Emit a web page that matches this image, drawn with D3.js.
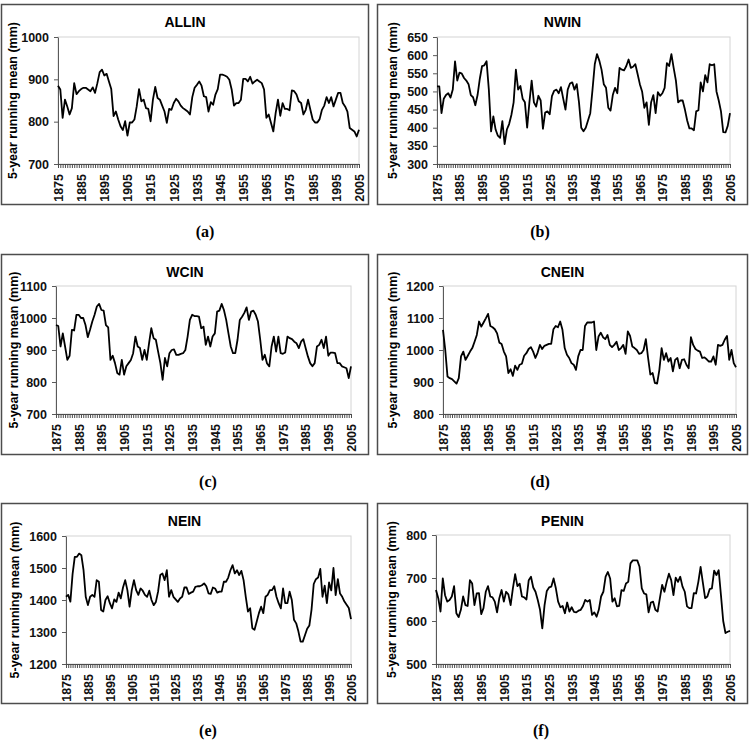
<!DOCTYPE html>
<html>
<head>
<meta charset="utf-8">
<script src="https://cdn.jsdelivr.net/npm/d3@7"></script>
<style>
  body { margin: 0; background: #fff; }
  text { font-family: "Liberation Sans", Arial, sans-serif; }
</style>
</head>
<body>
<script>
var years = d3.range(1875, 2006);
var labelYears = [1875, 1885, 1895, 1905, 1915, 1925, 1935, 1945, 1955, 1965, 1975, 1985, 1995, 2005];

var allin = [885,876,809,852,836,817,832,891,865,872,
  877,880,880,876,872,881,868,891,917,923,
  909,913,895,877,813,824,805,789,780,801,
  767,798,798,805,836,877,848,852,832,830,
  801,852,882,856,852,838,824,797,830,828,
  844,854,848,838,832,828,824,817,858,880,
  887,895,885,860,858,824,846,840,864,877,
  911,911,909,906,899,876,838,844,844,852,
  901,901,895,906,890,895,899,895,891,876,
  809,817,797,777,820,852,814,844,830,830,
  827,874,872,864,848,844,817,828,852,828,
  805,798,798,806,828,838,858,844,858,836,
  852,868,868,844,836,824,785,781,777,765,
  781];

var nwin = [514,514,440,480,490,495,483,505,583,530,
  552,549,537,530,520,490,484,462,490,535,
  570,572,583,505,390,431,395,378,372,418,
  355,395,410,435,470,560,505,515,480,470,
  400,470,530,470,458,488,475,397,442,445,
  437,487,502,505,495,512,480,450,505,522,
  525,505,520,470,400,390,400,420,440,505,
  575,603,585,560,520,510,455,447,490,510,
  495,565,560,558,570,588,565,568,575,548,
  520,500,455,470,408,470,490,440,498,488,
  495,510,578,570,603,565,530,470,475,475,
  450,420,398,398,393,445,448,525,500,545,
  525,575,572,575,500,475,445,388,387,405,
  440];

var wcin = [978,975,911,952,911,869,882,963,961,1010,
  1010,1000,1000,978,940,963,989,1010,1036,1044,
  1025,1023,978,971,869,882,859,828,823,869,
  823,849,859,869,890,942,911,906,869,900,
  869,921,968,937,932,895,859,807,875,849,
  890,900,902,885,885,888,890,900,942,994,
  1010,1006,1006,1004,968,973,916,942,911,942,
  952,1020,1023,1044,1025,994,952,911,890,890,
  932,994,1004,1016,1033,994,1020,1023,1010,989,
  932,869,885,858,849,911,942,895,942,890,
  888,892,942,937,934,926,921,906,926,934,
  906,880,859,849,859,911,916,932,906,942,
  882,892,892,890,859,859,849,846,843,812,
  849];

var cnein = [1063,1000,917,912,909,902,895,912,980,995,
  969,982,995,1006,1026,1047,1089,1073,1086,1099,
  1113,1075,1071,1065,1052,1023,1019,995,980,928,
  940,919,951,938,954,957,982,990,1003,1009,
  995,975,992,1016,1003,1013,1016,1019,1019,1065,
  1075,1071,1089,1063,1006,985,975,959,954,938,
  980,1000,1000,1075,1086,1086,1086,1089,1000,1042,
  1054,1040,1034,1047,1016,1009,1016,1026,1000,1006,
  1016,988,1058,1044,1011,1006,1000,988,990,1000,
  1034,975,923,928,897,895,938,1006,969,990,
  964,975,933,969,975,943,969,971,954,943,
  1040,1016,1003,998,995,975,977,971,964,964,
  980,954,1016,1013,1016,1032,1044,969,1000,959,
  946];

var nein = [1410,1416,1395,1481,1535,1535,1545,1540,1493,1410,
  1384,1410,1416,1410,1462,1457,1369,1364,1400,1412,
  1390,1374,1402,1394,1423,1405,1439,1462,1431,1379,
  1431,1462,1431,1416,1436,1429,1416,1410,1429,1400,
  1384,1394,1426,1478,1483,1462,1493,1410,1431,1410,
  1402,1394,1405,1410,1439,1439,1419,1423,1426,1441,
  1443,1443,1446,1452,1443,1421,1419,1439,1436,1423,
  1426,1426,1457,1457,1470,1493,1509,1483,1493,1478,
  1491,1462,1410,1364,1374,1312,1307,1333,1359,1379,
  1359,1410,1416,1431,1431,1443,1410,1390,1374,1436,
  1390,1390,1426,1400,1338,1327,1302,1270,1270,1290,
  1310,1320,1370,1450,1465,1470,1497,1410,1445,1390,
  1455,1430,1500,1415,1465,1420,1410,1395,1385,1375,
  1340];

var penin = [672,653,622,699,660,645,649,657,681,618,
  609,626,657,637,635,695,687,637,664,665,
  616,630,668,681,657,655,645,620,653,672,
  645,668,662,637,676,709,681,687,657,655,
  650,695,703,678,668,649,626,583,637,670,
  678,680,699,676,645,632,635,618,643,622,
  632,621,620,624,626,635,649,645,649,614,
  620,610,626,657,668,703,714,699,645,653,
  634,635,672,670,687,691,734,741,741,741,
  726,676,664,662,620,643,645,626,622,653,
  684,668,691,710,695,660,701,691,703,680,
  668,634,630,630,665,664,691,726,689,653,
  657,674,676,717,707,718,660,600,572,575,
  577];

var allinTicks = [700, 800, 900, 1000];
var nwinTicks = [300, 350, 400, 450, 500, 550, 600, 650];
var wcinTicks = [700, 800, 900, 1000, 1100];
var cneinTicks = [800, 900, 1000, 1100, 1200];
var neinTicks = [1200, 1300, 1400, 1500, 1600];
var peninTicks = [500, 600, 700, 800];

var svg = d3.select("body")
            .append("svg")
            .attr("width", 754)
            .attr("height", 749);

// box = [x, y, w, h], plot = [left, top, right, bottom]
var panels = [
  {title: "ALLIN", tag: "(a)", values: allin, ticks: allinTicks, box: [1.5, 4.5, 367, 200], plot: [58, 37, 359, 164], labelX: 13, tagX: 205},
  {title: "NWIN", tag: "(b)", values: nwin, ticks: nwinTicks, box: [377.5, 4.5, 370, 200], plot: [437, 37, 730, 164], labelX: 393, tagX: 540},
  {title: "WCIN", tag: "(c)", values: wcin, ticks: wcinTicks, box: [1.5, 254.5, 367, 200], plot: [56, 286, 351, 414], labelX: 14, tagX: 208},
  {title: "CNEIN", tag: "(d)", values: cnein, ticks: cneinTicks, box: [377.5, 254.5, 370, 200], plot: [443, 286, 736, 414], labelX: 393, tagX: 540},
  {title: "NEIN", tag: "(e)", values: nein, ticks: neinTicks, box: [1.5, 503.5, 366, 200], plot: [66, 536, 351, 664], labelX: 15, tagX: 208},
  {title: "PENIN", tag: "(f)", values: penin, ticks: peninTicks, box: [377.5, 503.5, 370, 200], plot: [436, 535, 730, 664], labelX: 392, tagX: 541}
];

panels.forEach(function(p) {
  var g = svg.append("g");
  var left = p.plot[0], top = p.plot[1], right = p.plot[2], bottom = p.plot[3];

  g.append("rect")
   .attr("x", p.box[0])
   .attr("y", p.box[1])
   .attr("width", p.box[2])
   .attr("height", p.box[3])
   .attr("fill", "none")
   .attr("stroke", "#4d4d4d")
   .attr("stroke-width", 1.5);

  var xScale = d3.scaleLinear()
                 .domain([years[0], years[years.length - 1]])
                 .range([left, right]);

  var yScale = d3.scaleLinear()
                 .domain([p.ticks[0], p.ticks[p.ticks.length - 1]])
                 .range([bottom, top]);

  // light frame of the plot area
  g.append("rect")
   .attr("x", left)
   .attr("y", top)
   .attr("width", right - left)
   .attr("height", bottom - top)
   .attr("fill", "none")
   .attr("stroke", "#d4d4d4")
   .attr("stroke-width", 1);

  g.append("text")
   .attr("x", p.box[0] + p.box[2] / 2)
   .attr("y", p.box[1] + 22)
   .attr("text-anchor", "middle")
   .style("font-size", "14px")
   .style("font-weight", "bold")
   .text(p.title);

  var yAxis = g.append("g")
               .attr("transform", "translate(" + left + ",0)")
               .call(d3.axisLeft(yScale)
                       .tickValues(p.ticks)
                       .tickFormat(d3.format("d"))
                       .tickSize(4)
                       .tickSizeOuter(0)
                       .tickPadding(5));

  yAxis.selectAll("path, line").attr("stroke", "#5a5a5a");
  yAxis.selectAll("text")
       .style("font-size", "12.5px")
       .style("font-weight", "bold")
       .attr("fill", "#111");

  var xAxis = g.append("g")
               .attr("transform", "translate(0," + bottom + ")")
               .call(d3.axisBottom(xScale)
                       .tickValues(years)
                       .tickSize(4)
                       .tickSizeOuter(0)
                       .tickFormat(function(d) { return labelYears.indexOf(d) >= 0 ? d : ""; }));

  xAxis.selectAll("path, line").attr("stroke", "#4d4d4d");
  xAxis.selectAll("text")
       .attr("transform", "rotate(-90)")
       .attr("text-anchor", "end")
       .attr("x", -10)
       .attr("y", 0)
       .attr("dy", "0.35em")
       .style("font-size", "12.5px")
       .style("font-weight", "bold")
       .attr("fill", "#111");

  g.append("text")
   .attr("transform", "translate(" + p.labelX + "," + (top + bottom) / 2 + ") rotate(-90)")
   .attr("text-anchor", "middle")
   .attr("dy", "0.35em")
   .style("font-size", "12.5px")
   .style("font-weight", "bold")
   .text("5-year running mean (mm)");

  var line = d3.line()
               .x(function(d, i) { return xScale(years[i]); })
               .y(function(d) { return yScale(d); });

  g.append("path")
   .datum(p.values)
   .attr("d", line)
   .attr("fill", "none")
   .attr("stroke", "#000")
   .attr("stroke-width", 1.8)
   .attr("stroke-linejoin", "round");

  g.append("text")
   .attr("x", p.tagX)
   .attr("y", p.box[1] + 232)
   .attr("text-anchor", "middle")
   .style("font-family", "'Liberation Serif', 'Times New Roman', serif")
   .style("font-size", "16px")
   .style("font-weight", "bold")
   .text(p.tag);
});
</script>
</body>
</html>
